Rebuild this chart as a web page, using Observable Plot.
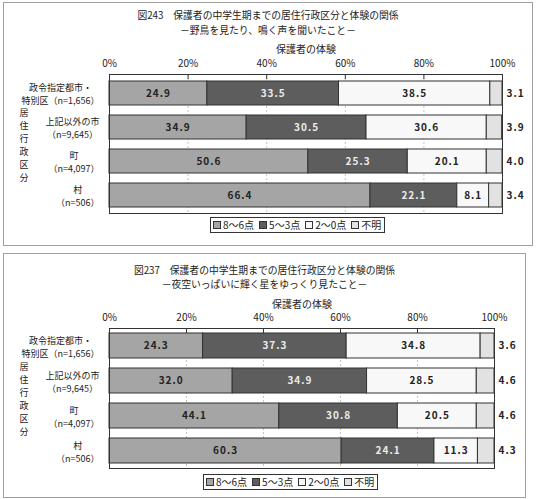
<!DOCTYPE html>
<html><head><meta charset="utf-8">
<script src="https://cdn.jsdelivr.net/npm/d3@7"></script>
<script src="https://cdn.jsdelivr.net/npm/@observablehq/plot@0.6"></script>
<style>
body{margin:0;background:#fff;font-family:"Noto Sans CJK JP",sans-serif;color:#222;}
.panel{position:absolute;border:1px solid #a0a0a0;box-sizing:border-box;background:#fff;}
.ttl{position:absolute;left:0;right:0;text-align:center;font-size:9.8px;line-height:12px;white-space:nowrap;}
.panel svg{position:absolute;left:0;top:0;overflow:visible;}
.legend{position:absolute;border:1px solid #333;font-size:10px;line-height:12px;padding:0 3px 0 2px;white-space:nowrap;display:flex;align-items:center;background:#fff;}
.legend .it{display:inline-flex;align-items:center;margin-right:5px;}
.legend .it:last-child{margin-right:0;}
.legend .sw{display:inline-block;width:6px;height:6px;border:1px solid #333;margin-right:2px;}
</style>
</head><body>
<script>
// ---- data ----
const categories = ["政令指定都市・\n特別区（n=1,656）", "上記以外の市\n（n=9,645）", "町\n（n=4,097）", "村\n（n=506）"];
const seriesNames = ["8〜6点", "5〜3点", "2〜0点", "不明"];
const seriesColors = ["#a5a5a5", "#5d5d5d", "#f8f8f8", "#e2e2e2"];
const xTicks = [0, 20, 40, 60, 80, 100];
const xAxisLabel = "保護者の体験";
const yAxisLabel = "居住行政区分";

const fig243Title = "図243　保護者の中学生期までの居住行政区分と体験の関係";
const fig243Subtitle = "－野鳥を見たり、鳴く声を聞いたこと－";
const fig243_s1 = [24.9, 34.9, 50.6, 66.4];
const fig243_s2 = [33.5, 30.5, 25.3, 22.1];
const fig243_s3 = [38.5, 30.6, 20.1, 8.1];
const fig243_s4 = [3.1, 3.9, 4.0, 3.4];

const fig237Title = "図237　保護者の中学生期までの居住行政区分と体験の関係";
const fig237Subtitle = "－夜空いっぱいに輝く星をゆっくり見たこと－";
const fig237_s1 = [24.3, 32.0, 44.1, 60.3];
const fig237_s2 = [37.3, 34.9, 30.8, 24.1];
const fig237_s3 = [34.8, 28.5, 20.5, 11.3];
const fig237_s4 = [3.6, 4.6, 4.6, 4.3];

// ---- helpers ----
const FONT = "'Noto Sans CJK JP', sans-serif";
const ctx = document.createElement("canvas").getContext("2d");
function textWidth(s, size) {
  ctx.font = `${size}px "Noto Sans CJK JP"`;
  return Math.max(...s.split("\n").map(l => ctx.measureText(l).width));
}

function makePanel(cfg) {
  const p = document.createElement("div");
  p.className = "panel";
  Object.assign(p.style, {left: cfg.left + "px", top: cfg.top + "px", width: cfg.width + "px", height: cfg.height + "px"});
  document.body.appendChild(p);

  const t1 = document.createElement("div");
  t1.className = "ttl"; t1.style.top = (cfg.titleY - 6) + "px"; t1.textContent = cfg.title;
  const t2 = document.createElement("div");
  t2.className = "ttl"; t2.style.top = (cfg.subY - 6) + "px"; t2.textContent = cfg.subtitle;
  p.append(t1, t2);

  const rows = [];
  categories.forEach((c, i) => cfg.series.forEach((s, j) => rows.push({cat: c, series: seriesNames[j], value: s[i]})));

  const labelSize = 9;
  const catMarks = categories.map(c => Plot.text([c], {
    y: d => d, text: d => d, frameAnchor: "left", textAnchor: "middle",
    dx: -(10 + textWidth(c, labelSize) / 2), lineHeight: 1.45, fontSize: labelSize, fill: "#222"
  }));

  const svg = Plot.plot({
    width: cfg.plotW, height: cfg.plotH,
    marginLeft: cfg.mL, marginRight: cfg.mR, marginTop: cfg.mT, marginBottom: cfg.mB,
    style: {fontFamily: FONT, fontSize: "10px", color: "#222", background: "transparent", overflow: "visible"},
    x: {domain: [0, 100], axis: null},
    y: {domain: categories, paddingInner: 0.3, paddingOuter: 0.15, axis: null},
    color: {domain: seriesNames, range: seriesColors},
    marks: [
      Plot.gridX({ticks: [20, 40, 60, 80], stroke: "#c4c4c4", strokeOpacity: 1, strokeDasharray: "2,2"}),
      Plot.barX(rows, Plot.stackX({x: "value", y: "cat", fill: "series", order: seriesNames, stroke: "#333", strokeWidth: 1})),
      Plot.text(rows.filter(d => d.series !== "不明"), Plot.stackX({
        x: "value", y: "cat", z: "series", order: seriesNames,
        text: d => d.value.toFixed(1),
        fill: d => d.series === "5〜3点" ? "#ececec" : "#222", fontWeight: "bold"
      })),
      Plot.text(rows.filter(d => d.series === "不明"), {
        y: "cat", text: d => d.value.toFixed(1), frameAnchor: "right", textAnchor: "start", dx: 4,
        fill: "#222", fontWeight: "bold"
      }),
      Plot.frame({stroke: "#333"}),
      Plot.axisX({anchor: "top", ticks: xTicks, tickFormat: d => d + "%", tickSize: -4, tickPadding: 12, label: null, stroke: "#333", fill: "#222"}),
      Plot.text([xAxisLabel], {frameAnchor: "top", dy: -cfg.xLabelOff, text: d => d, fontSize: 10, fill: "#222"}),
      Plot.text([yAxisLabel.split("").join("\n")], {frameAnchor: "left", dx: -90, text: d => d, lineHeight: 1.45, fontSize: 9, fill: "#222"}),
      ...catMarks
    ]
  });
  d3.select(svg).selectAll("text").filter(function() { return /^\d+\.\d$/.test(this.textContent); })
    .attr("letter-spacing", "1px");
  p.appendChild(svg);

  const lg = document.createElement("div");
  lg.className = "legend";
  Object.assign(lg.style, {left: cfg.legX + "px", top: cfg.legY + "px", height: cfg.legH + "px"});
  seriesNames.forEach((s, j) => {
    const it = document.createElement("span"); it.className = "it";
    const sw = document.createElement("span"); sw.className = "sw"; sw.style.background = seriesColors[j];
    it.append(sw, document.createTextNode(s));
    lg.appendChild(it);
  });
  p.appendChild(lg);
}

makePanel({
  left: 3, top: 2, width: 530, height: 244,
  title: fig243Title, subtitle: fig243Subtitle, titleY: 12, subY: 27,
  series: [fig243_s1, fig243_s2, fig243_s3, fig243_s4],
  plotW: 528, plotH: 216, mL: 105, mR: 30, mT: 71, mB: 6, xLabelOff: 29,
  legX: 206, legY: 214, legH: 14
});
makePanel({
  left: 3, top: 253, width: 523, height: 245,
  title: fig237Title, subtitle: fig237Subtitle, titleY: 16, subY: 30,
  series: [fig237_s1, fig237_s2, fig237_s3, fig237_s4],
  plotW: 521, plotH: 220, mL: 105, mR: 31, mT: 74, mB: 6, xLabelOff: 28,
  legX: 199, legY: 220, legH: 14
});
</script>
</body></html>
